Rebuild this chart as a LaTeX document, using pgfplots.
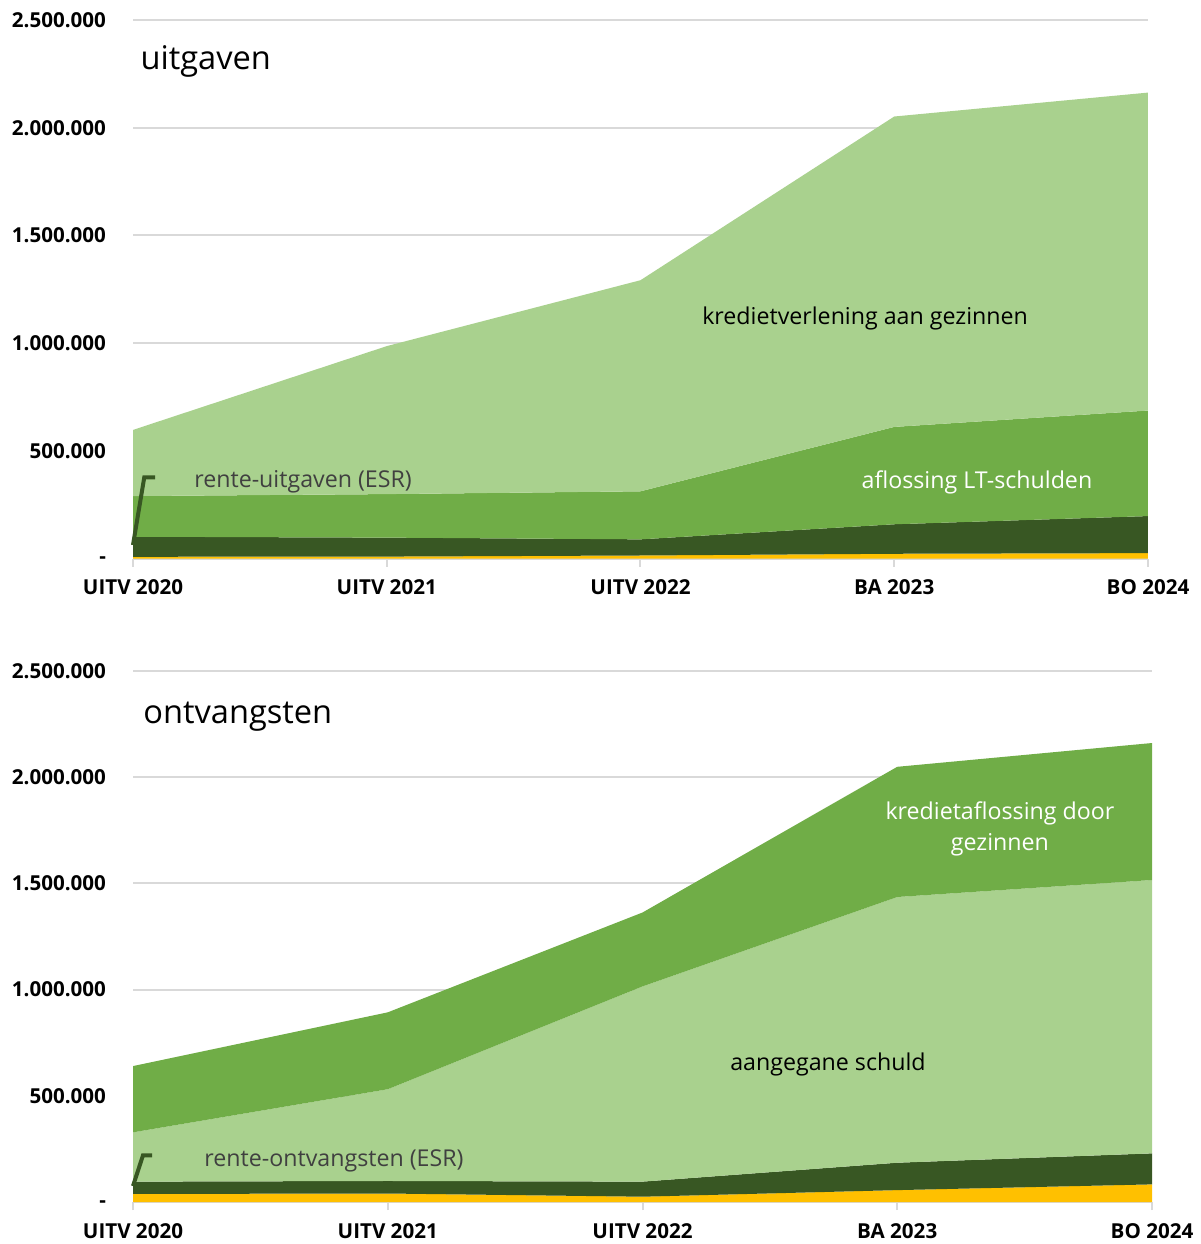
\documentclass[border=0pt]{standalone}
\usepackage{fontspec}
\setmainfont{Open Sans}
\usepackage{pgfplots}
\pgfplotsset{compat=1.18}
\definecolor{lg}{HTML}{A9D18E}
\definecolor{mg}{HTML}{70AD47}
\definecolor{dg}{HTML}{385723}
\definecolor{yl}{HTML}{FFC000}
\definecolor{gridc}{HTML}{D9D9D9}
\definecolor{txt}{HTML}{404040}
\tikzset{lbl/.style={font=\fontsize{11.6}{14}\selectfont, inner sep=0pt},
  ttl/.style={font=\fontsize{16.3}{19}\selectfont, inner sep=0pt}}
\pgfplotsset{
  mychart/.style={
    scale only axis,
    xmin=0, xmax=4, ymin=0, ymax=2500000,
    axis lines=left,
    axis line style={-},
    y axis line style={draw=none},
    x axis line style={gridc, line width=1pt},
    tick align=outside,
    major tick length=4pt,
    xtick={0,1,2,3,4},
    xticklabels={UITV 2020, UITV 2021, UITV 2022, BA 2023, BO 2024},
    ytick={0,500000,1000000,1500000,2000000,2500000},
    yticklabels={\smash{\raisebox{-2.6pt}{-}}, 500.000, 1.000.000, 1.500.000, 2.000.000, 2.500.000},
    scaled y ticks=false,
    xtick style={gridc, line width=1pt},
    ytick style={draw=none},
    ymajorgrids,
    grid style={gridc, line width=1pt},
    ticklabel style={font=\bfseries\fontsize{10.3}{11}\selectfont, text=black},
    yticklabel style={xshift=-6pt},
    xticklabel style={yshift=-3pt},
    stack plots=y,
    reverse stacked plots=false,
    clip=false,
  },
}
\begin{document}
\begin{tikzpicture}
\path[use as bounding box] (0,0) rectangle (600.5pt,-622pt);
% ---------------- uitgaven ----------------
\begin{axis}[mychart, at={(66.5pt,-279.25pt)}, anchor=origin,
  width=507.5pt, height=269.25pt]
\addplot[fill=yl, draw=none] coordinates {(0,8000) (1,9000) (2,14000) (3,22000) (4,25000)} \closedcycle;
\addplot[fill=dg, draw=none] coordinates {(0,93000) (1,88000) (2,75000) (3,137000) (4,172000)} \closedcycle;
\addplot[fill=mg, draw=none] coordinates {(0,189000) (1,202000) (2,223000) (3,452000) (4,490000)} \closedcycle;
\addplot[fill=lg, draw=none] coordinates {(0,307000) (1,687000) (2,980000) (3,1441000) (4,1476000)} \closedcycle;
\node[anchor=base west, ttl] at (axis cs:0.028,2268000) {uitgaven};
\node[anchor=base, lbl] at (axis cs:2.885,1087000) {kredietverlening aan gezinnen};
\node[anchor=base, lbl, text=white] at (axis cs:3.326,326000) {aflossing LT-schulden};
\node[anchor=base west, lbl, text=txt] at (axis cs:0.240,328700) {rente-uitgaven (ESR)};
\draw[dg, line width=2pt] (axis cs:0,62700) -- (axis cs:0.0445,377000) -- (axis cs:0.0867,377000);
\end{axis}
% ---------------- ontvangsten ----------------
\begin{axis}[mychart, at={(66.5pt,-601pt)}, anchor=origin,
  width=509.5pt, height=265.5pt]
\addplot[fill=yl, draw=none] coordinates {(0,38000) (1,40000) (2,25000) (3,56000) (4,83000)} \closedcycle;
\addplot[fill=dg, draw=none] coordinates {(0,58000) (1,59000) (2,71000) (3,129000) (4,146000)} \closedcycle;
\addplot[fill=lg, draw=none] coordinates {(0,232000) (1,432000) (2,919000) (3,1251000) (4,1287000)} \closedcycle;
\addplot[fill=mg, draw=none] coordinates {(0,312000) (1,362000) (2,348000) (3,613000) (4,645000)} \closedcycle;
\node[anchor=base west, ttl] at (axis cs:0.039,2255000) {ontvangsten};
\node[anchor=base, lbl, text=white, align=center] at (axis cs:3.403,1657000) {kredietaflossing door\\[1.5pt]gezinnen};
\node[anchor=base, lbl] at (axis cs:2.728,621000) {aangegane schuld};
\node[anchor=base west, lbl, text=txt] at (axis cs:0.279,169500) {rente-ontvangsten (ESR)};
\draw[dg, line width=2pt] (axis cs:0,75300) -- (axis cs:0.039,219000) -- (axis cs:0.0746,219000);
\end{axis}
\end{tikzpicture}
\end{document}
